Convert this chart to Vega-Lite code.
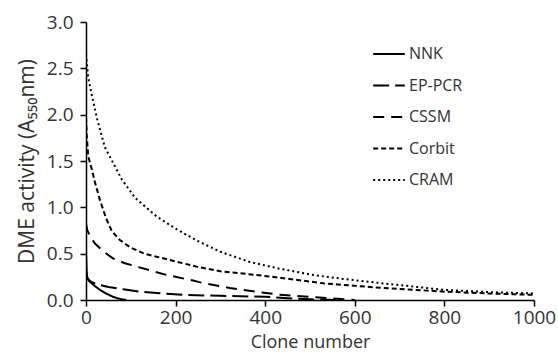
{
  "$schema": "https://vega.github.io/schema/vega-lite/v6.json",
  "width": 448,
  "height": 278,
  "autosize": {"type": "none"},
  "padding": {"left": 86, "top": 22, "right": 24, "bottom": 58},
  "background": "white",
  "config": {"view": {"stroke": null}, "font": "Open Sans, DejaVu Sans"},
  "data": {"values": [
    {"s":"NNK","x":0,"y":0.55},{"s":"NNK","x":1,"y":0.36},{"s":"NNK","x":2,"y":0.27},{"s":"NNK","x":4,"y":0.22},{"s":"NNK","x":10,"y":0.19},{"s":"NNK","x":20,"y":0.15},{"s":"NNK","x":31,"y":0.11},{"s":"NNK","x":45,"y":0.07},{"s":"NNK","x":60,"y":0.035},{"s":"NNK","x":75,"y":0.012},{"s":"NNK","x":90,"y":0},
    {"s":"EP-PCR","x":0,"y":0.3},{"s":"EP-PCR","x":2,"y":0.24},{"s":"EP-PCR","x":10,"y":0.2},{"s":"EP-PCR","x":24,"y":0.17},{"s":"EP-PCR","x":50,"y":0.14},{"s":"EP-PCR","x":83,"y":0.115},{"s":"EP-PCR","x":120,"y":0.09},{"s":"EP-PCR","x":158,"y":0.075},{"s":"EP-PCR","x":225,"y":0.055},{"s":"EP-PCR","x":300,"y":0.045},{"s":"EP-PCR","x":400,"y":0.035},{"s":"EP-PCR","x":450,"y":0.02},{"s":"EP-PCR","x":500,"y":0.008},{"s":"EP-PCR","x":560,"y":0},
    {"s":"CSSM","x":0,"y":0.82},{"s":"CSSM","x":3,"y":0.75},{"s":"CSSM","x":10,"y":0.68},{"s":"CSSM","x":20,"y":0.61},{"s":"CSSM","x":40,"y":0.52},{"s":"CSSM","x":60,"y":0.45},{"s":"CSSM","x":85,"y":0.4},{"s":"CSSM","x":113,"y":0.36},{"s":"CSSM","x":150,"y":0.31},{"s":"CSSM","x":180,"y":0.27},{"s":"CSSM","x":239,"y":0.21},{"s":"CSSM","x":255,"y":0.19},{"s":"CSSM","x":321,"y":0.13},{"s":"CSSM","x":380,"y":0.09},{"s":"CSSM","x":426,"y":0.06},{"s":"CSSM","x":480,"y":0.04},{"s":"CSSM","x":540,"y":0.02},{"s":"CSSM","x":600,"y":0},
    {"s":"Corbit","x":0,"y":1.97},{"s":"Corbit","x":2,"y":1.75},{"s":"Corbit","x":5,"y":1.55},{"s":"Corbit","x":13,"y":1.41},{"s":"Corbit","x":20,"y":1.27},{"s":"Corbit","x":31,"y":1.08},{"s":"Corbit","x":45,"y":0.88},{"s":"Corbit","x":58,"y":0.74},{"s":"Corbit","x":75,"y":0.65},{"s":"Corbit","x":98,"y":0.57},{"s":"Corbit","x":130,"y":0.5},{"s":"Corbit","x":172,"y":0.45},{"s":"Corbit","x":247,"y":0.36},{"s":"Corbit","x":300,"y":0.31},{"s":"Corbit","x":381,"y":0.27},{"s":"Corbit","x":450,"y":0.23},{"s":"Corbit","x":530,"y":0.18},{"s":"Corbit","x":634,"y":0.14},{"s":"Corbit","x":700,"y":0.12},{"s":"Corbit","x":800,"y":0.09},{"s":"Corbit","x":900,"y":0.07},{"s":"Corbit","x":1000,"y":0.055},
    {"s":"CRAM","x":0,"y":2.65},{"s":"CRAM","x":5,"y":2.4},{"s":"CRAM","x":13,"y":2.21},{"s":"CRAM","x":25,"y":1.95},{"s":"CRAM","x":42,"y":1.65},{"s":"CRAM","x":54,"y":1.54},{"s":"CRAM","x":80,"y":1.3},{"s":"CRAM","x":110,"y":1.1},{"s":"CRAM","x":158,"y":0.9},{"s":"CRAM","x":200,"y":0.77},{"s":"CRAM","x":248,"y":0.64},{"s":"CRAM","x":300,"y":0.52},{"s":"CRAM","x":366,"y":0.41},{"s":"CRAM","x":430,"y":0.34},{"s":"CRAM","x":507,"y":0.27},{"s":"CRAM","x":570,"y":0.23},{"s":"CRAM","x":634,"y":0.195},{"s":"CRAM","x":700,"y":0.16},{"s":"CRAM","x":800,"y":0.11},{"s":"CRAM","x":900,"y":0.085},{"s":"CRAM","x":1000,"y":0.07}
  ]},
  "mark": {"type": "line", "color": "black", "strokeWidth": 2, "clip": true},
  "encoding": {
    "x": {"field": "x", "type": "quantitative", "scale": {"domain": [0, 1000], "nice": false},
      "axis": {"values": [0,200,400,600,800,1000], "format": "d", "labelFlush": false, "title": "Clone number", "grid": false, "domainColor": "black", "domainWidth": 1.5, "tickColor": "black", "tickWidth": 1.5, "tickSize": 6, "labelFontSize": 19, "labelColor": "#333", "labelPadding": 2, "titleFontSize": 18, "titleFontWeight": "normal", "titleColor": "#333", "titlePadding": 6}},
    "y": {"field": "y", "type": "quantitative", "scale": {"domain": [0, 3], "nice": false},
      "axis": {"values": [0,0.5,1,1.5,2,2.5,3], "format": ".1f", "labelFlush": false, "title": "DME activity (A₅₅₀nm)", "grid": false, "domainColor": "black", "domainWidth": 1.5, "tickColor": "black", "tickWidth": 1.5, "tickSize": 6, "labelFontSize": 19, "labelColor": "#333", "labelPadding": 7, "titleFontSize": 21, "titleFontWeight": "normal", "titleColor": "#333", "titlePadding": 9}},
    "strokeDash": {"field": "s", "type": "nominal",
      "scale": {"domain": ["NNK","EP-PCR","CSSM","Corbit","CRAM"], "range": [[1,0],[16,6],[11,7],[5,3],[2,3]]},
      "legend": {"orient": "none", "legendX": 286, "legendY": 15, "title": null, "symbolType": "stroke", "symbolSize": 1000, "symbolStrokeColor": "black", "symbolStrokeWidth": 2, "labelFontSize": 16, "labelColor": "#333", "labelOffset": 3, "rowPadding": 6.5}}
  }
}
